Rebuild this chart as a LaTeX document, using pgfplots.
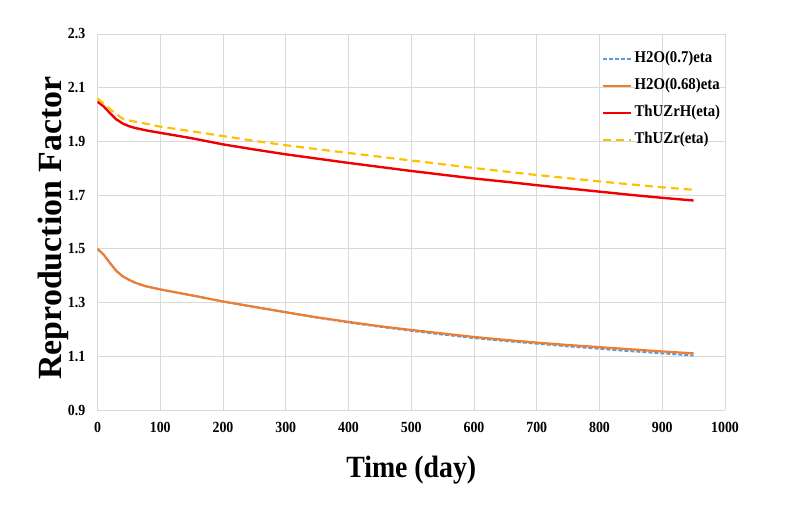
\documentclass[border=0pt]{standalone}
\usepackage{pgfplots}
\pgfplotsset{compat=1.18}
\usepackage{fontspec}
\setmainfont[FakeStretch=0.9]{Liberation Serif}
\newfontfamily\ylabfont{Liberation Serif}
\definecolor{xlblue}{RGB}{91,155,213}
\definecolor{xlorange}{RGB}{237,125,49}
\definecolor{xlred}{RGB}{240,0,0}
\definecolor{xlyellow}{RGB}{255,192,0}
\definecolor{gridgray}{RGB}{217,217,217}
\begin{document}
\begin{tikzpicture}
\path[use as bounding box] (-97.5bp,-97bp) rectangle (691.5bp,410bp);
\begin{axis}[scale only axis,width=627.5bp,height=376bp,
  at={(0,0)},anchor=south west,
  xmin=0,xmax=1000,ymin=0.9,ymax=2.3,
  xtick={0,100,...,1000},
  ytick={0.9,1.1,1.3,1.5,1.7,1.9,2.1,2.3},
  grid=major,major grid style={gridgray,line width=0.75bp},
  axis line style={draw=none},
  major tick length=0pt,
  /pgf/number format/assume math mode=true,
  /pgf/number format/1000 sep={},
  tick label style={font=\bfseries\fontsize{15.5}{18}\selectfont},
  yticklabel style={anchor=east,inner sep=0pt,xshift=-12bp},
  xticklabel style={anchor=north,inner sep=0pt,yshift=-12bp},
  xlabel={Time (day)},
  xlabel style={at={([yshift=-60bp]rel axis cs:0.5,0)},anchor=center,
    font=\bfseries\fontsize{31}{36}\selectfont},
  ylabel={Reproduction Factor},
  ylabel style={at={([xshift=-44.5bp,yshift=-6bp]rel axis cs:0,0.5)},anchor=center,
    font=\ylabfont\bfseries\fontsize{34}{40}\selectfont},
  legend cell align=left,
  legend image code/.code={\draw[#1] (0bp,0bp) -- (28bp,0bp);},
  legend style={draw=none,fill=none,at={(rel axis cs:0.804,0.952)},anchor=north west,
    inner sep=0pt,row sep=14bp,column sep=2bp,
    font=\bfseries\fontsize{16.5}{19}\selectfont,
    nodes={inner sep=0pt,text height=10bp,text depth=3bp}}]

% H2O(0.7)eta
\addplot[xlblue,line width=2bp,dash pattern=on 4bp off 2bp] coordinates {
  (0,1.500)(10,1.478)(20,1.447)(30,1.418)(40,1.398)(50,1.385)(60,1.374)
  (75,1.362)(100,1.349)(150,1.327)(200,1.304)(250,1.284)(300,1.264)
  (350,1.244)(400,1.226)(450,1.210)(500,1.195)(550,1.181)(600,1.168)
  (650,1.157)(700,1.147)(750,1.137)(800,1.128)(850,1.119)(900,1.111)(950,1.103)};

% H2O(0.68)eta
\addplot[xlorange,line width=2.2bp] coordinates {
  (0,1.500)(10,1.478)(20,1.447)(30,1.418)(40,1.398)(50,1.385)(60,1.374)
  (75,1.362)(100,1.349)(150,1.327)(200,1.304)(250,1.284)(300,1.264)
  (350,1.245)(400,1.228)(450,1.212)(500,1.198)(550,1.185)(600,1.172)
  (650,1.161)(700,1.151)(750,1.142)(800,1.134)(850,1.126)(900,1.118)(950,1.111)};

% ThUZrH(eta)
\addplot[xlred,line width=2.4bp] coordinates {
  (0,2.048)(10,2.030)(20,2.005)(30,1.982)(40,1.967)(50,1.957)(60,1.950)
  (80,1.940)(100,1.932)(150,1.912)(200,1.889)(250,1.870)(300,1.852)
  (350,1.836)(400,1.820)(450,1.805)(500,1.790)(550,1.776)(600,1.762)
  (650,1.750)(700,1.737)(750,1.725)(800,1.713)(850,1.701)(900,1.690)(950,1.680)};

% ThUZr(eta)
\addplot[xlyellow,line width=2.2bp,dash pattern=on 8bp off 5bp] coordinates {
  (0,2.060)(10,2.040)(20,2.020)(30,2.002)(40,1.985)(50,1.978)(75,1.967)
  (100,1.955)(150,1.938)(200,1.920)(250,1.902)(300,1.886)(350,1.871)
  (400,1.857)(450,1.843)(500,1.829)(550,1.815)(600,1.801)(650,1.788)
  (700,1.775)(750,1.763)(800,1.751)(850,1.740)(900,1.729)(950,1.720)};

\legend{H2O(0.7)eta,H2O(0.68)eta,ThUZrH(eta),ThUZr(eta)}
\end{axis}
\end{tikzpicture}
\end{document}
